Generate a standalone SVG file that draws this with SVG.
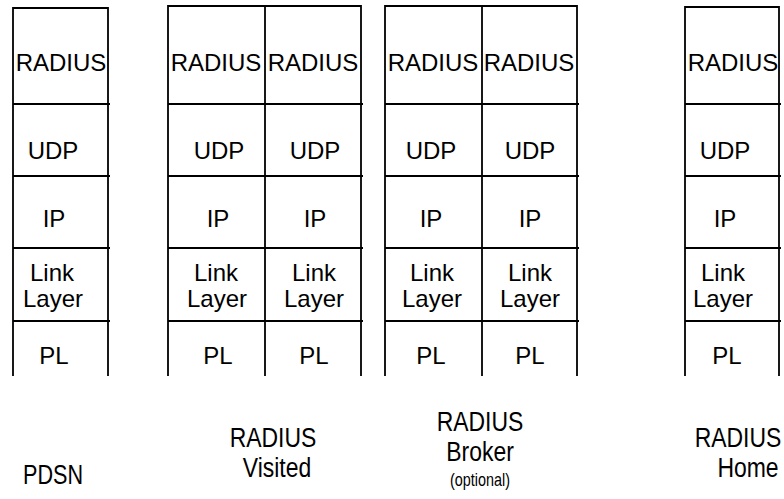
<svg xmlns="http://www.w3.org/2000/svg" width="784" height="499" viewBox="0 0 784 499">
<style>
.f{fill:none;stroke:#000;stroke-width:1.8}
.t{font-family:"Liberation Sans",Arial,sans-serif;font-size:24px;fill:#000;text-anchor:middle}
.b{font-family:"Liberation Sans",Arial,sans-serif;font-size:27px;fill:#000;text-anchor:middle}
.s{font-family:"Liberation Sans",Arial,sans-serif;font-size:18px;fill:#000;text-anchor:middle}
</style>
<rect width="784" height="499" fill="#fff"/>
<g id="pdsn">
<path class="f" d="M13,376V8H108V376M13,104H110M13,176H110M13,248H110M13,321H110"/>
<text class="t" x="61" y="71">RADIUS</text>
<text class="t" x="53" y="159">UDP</text>
<text class="t" x="54" y="227">IP</text>
<text class="t" x="52" y="281">Link</text>
<text class="t" x="53" y="307">Layer</text>
<text class="t" x="54" y="364">PL</text>
<text class="b" transform="translate(53,484) scale(0.8,1)">PDSN</text>
</g>
<g id="visited">
<path class="f" d="M168,376V6H361V376M265,6V376M168,104H363M168,176H363M168,248H363M168,321H363"/>
<text class="t" x="216" y="71">RADIUS</text>
<text class="t" x="219" y="159">UDP</text>
<text class="t" x="218" y="227">IP</text>
<text class="t" x="216" y="281">Link</text>
<text class="t" x="217" y="307">Layer</text>
<text class="t" x="218" y="364">PL</text>
<text class="t" x="313" y="71">RADIUS</text>
<text class="t" x="315" y="159">UDP</text>
<text class="t" x="315" y="227">IP</text>
<text class="t" x="314" y="281">Link</text>
<text class="t" x="314" y="307">Layer</text>
<text class="t" x="314" y="364">PL</text>
<text class="b" transform="translate(273,447) scale(0.85,1)">RADIUS</text>
<text class="b" transform="translate(277,477) scale(0.85,1)">Visited</text>
</g>
<g id="broker">
<path class="f" d="M385,376V6H577V376M482,6V376M385,104H579M385,176H579M385,248H579M385,321H579"/>
<text class="t" x="433" y="71">RADIUS</text>
<text class="t" x="431" y="159">UDP</text>
<text class="t" x="431" y="227">IP</text>
<text class="t" x="432" y="281">Link</text>
<text class="t" x="432" y="307">Layer</text>
<text class="t" x="431" y="364">PL</text>
<text class="t" x="529" y="71">RADIUS</text>
<text class="t" x="530" y="159">UDP</text>
<text class="t" x="530" y="227">IP</text>
<text class="t" x="530" y="281">Link</text>
<text class="t" x="530" y="307">Layer</text>
<text class="t" x="530" y="364">PL</text>
<text class="b" transform="translate(480,431) scale(0.85,1)">RADIUS</text>
<text class="b" transform="translate(480,461) scale(0.85,1)">Broker</text>
<text class="s" transform="translate(480,486) scale(0.8,1)">(optional)</text>
</g>
<g id="home">
<path class="f" d="M685,376V7H779V376M685,104H781M685,176H781M685,248H781M685,321H781"/>
<text class="t" x="733" y="71">RADIUS</text>
<text class="t" x="725" y="159">UDP</text>
<text class="t" x="725" y="227">IP</text>
<text class="t" x="723" y="281">Link</text>
<text class="t" x="723" y="307">Layer</text>
<text class="t" x="727" y="364">PL</text>
<text class="b" transform="translate(738,447) scale(0.85,1)">RADIUS</text>
<text class="b" transform="translate(748,477) scale(0.85,1)">Home</text>
</g>
</svg>
